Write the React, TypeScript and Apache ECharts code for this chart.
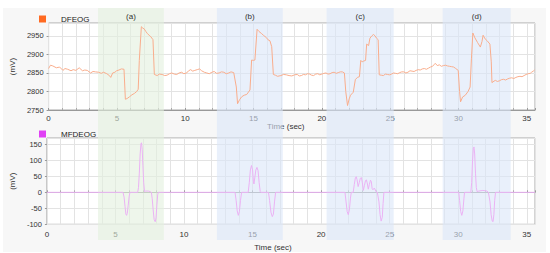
import React, { useEffect, useRef } from "react";
import * as echarts from "echarts";

const seriesNames = ["DFEOG", "MFDEOG"];
const bandLabels = ["(a)", "(b)", "(c)", "(d)"];
const bandRanges: [number, number][] = [
  [4.36, 9.07],
  [12.86, 17.57],
  [20.7, 25.5],
  [29.0, 33.86],
];
const bandKinds = ["green", "blue", "blue", "blue"];

const dfeogPoints: [number, number][] = [
  [0, 2862], [0.14, 2871], [0.31, 2869], [0.57, 2864], [0.81, 2866], [1.05, 2857], [1.2, 2862], [1.4, 2860],
  [1.64, 2856], [1.8, 2859], [2.0, 2857], [2.24, 2864], [2.48, 2856], [2.65, 2858], [2.83, 2857], [3.07, 2850],
  [3.25, 2854], [3.43, 2853], [3.67, 2852], [3.85, 2849], [4.02, 2852], [4.26, 2848], [4.45, 2843], [4.55, 2838],
  [4.69, 2850], [4.85, 2852], [4.98, 2856], [5.15, 2858], [5.33, 2861], [5.52, 2860], [5.62, 2779], [5.75, 2781],
  [5.93, 2786], [6.1, 2791], [6.29, 2795], [6.45, 2800], [6.56, 2806], [6.64, 2884], [6.79, 2975], [6.9, 2971],
  [7.0, 2969], [7.12, 2962], [7.24, 2956], [7.36, 2952], [7.48, 2948], [7.64, 2940], [7.74, 2846], [7.95, 2843],
  [8.1, 2847], [8.31, 2846], [8.5, 2843], [8.67, 2844], [8.85, 2848], [9.02, 2850], [9.2, 2847], [9.38, 2846],
  [9.55, 2850], [9.74, 2852], [9.9, 2848], [10.1, 2850], [10.25, 2856], [10.4, 2859], [10.55, 2855], [10.7, 2857],
  [10.88, 2859], [11.05, 2861], [11.2, 2856], [11.4, 2852], [11.58, 2850], [11.76, 2848], [11.95, 2852], [12.12, 2854],
  [12.3, 2849], [12.48, 2850], [12.65, 2853], [12.83, 2852], [13.0, 2848], [13.19, 2850], [13.35, 2853], [13.55, 2851],
  [13.74, 2812], [13.83, 2767], [13.98, 2778], [14.14, 2786], [14.32, 2790], [14.5, 2792], [14.74, 2804], [14.86, 2885],
  [15.0, 2884], [15.1, 2885], [15.26, 2968], [15.4, 2962], [15.57, 2957], [15.75, 2951], [15.93, 2946], [16.05, 2940],
  [16.2, 2937], [16.33, 2921], [16.45, 2846], [16.6, 2844], [16.76, 2841], [17.0, 2843], [17.2, 2846], [17.4, 2845],
  [17.6, 2843], [17.8, 2842], [18.0, 2845], [18.2, 2846], [18.35, 2842], [18.5, 2843], [18.65, 2846], [18.8, 2845],
  [18.95, 2848], [19.1, 2847], [19.25, 2844], [19.4, 2843], [19.55, 2847], [19.7, 2848], [19.85, 2845], [20.0, 2847],
  [20.15, 2849], [20.3, 2850], [20.45, 2847], [20.6, 2848], [20.75, 2851], [20.9, 2852], [21.05, 2849], [21.2, 2851],
  [21.35, 2853], [21.5, 2853], [21.65, 2850], [21.75, 2800], [21.88, 2762], [22.0, 2780], [22.1, 2790], [22.3, 2798],
  [22.45, 2832], [22.6, 2838], [22.75, 2840], [22.85, 2884], [22.95, 2880], [23.05, 2882], [23.2, 2884], [23.28, 2928],
  [23.42, 2924], [23.52, 2944], [23.65, 2950], [23.78, 2954], [23.9, 2950], [24.0, 2944], [24.12, 2940], [24.2, 2845],
  [24.35, 2844], [24.5, 2843], [24.65, 2847], [24.8, 2846], [24.95, 2845], [25.1, 2847], [25.25, 2850], [25.4, 2849],
  [25.55, 2848], [25.7, 2851], [25.85, 2853], [26.0, 2853], [26.15, 2850], [26.3, 2852], [26.45, 2856], [26.6, 2855],
  [26.75, 2854], [26.9, 2857], [27.05, 2859], [27.2, 2858], [27.35, 2861], [27.5, 2862], [27.65, 2860], [27.8, 2863],
  [27.95, 2866], [28.1, 2868], [28.2, 2872], [28.3, 2876], [28.45, 2870], [28.6, 2872], [28.75, 2868], [28.9, 2870],
  [29.05, 2871], [29.2, 2869], [29.35, 2868], [29.5, 2867], [29.65, 2866], [29.8, 2862], [29.98, 2857], [30.08, 2800],
  [30.15, 2772], [30.3, 2785], [30.5, 2790], [30.7, 2800], [30.85, 2812], [30.95, 2890], [31.05, 2958], [31.2, 2945],
  [31.4, 2932], [31.6, 2920], [31.72, 2935], [31.8, 2952], [31.95, 2942], [32.1, 2937], [32.3, 2928], [32.4, 2880],
  [32.45, 2824], [32.6, 2828], [32.7, 2830], [32.85, 2827], [33.0, 2829], [33.15, 2832], [33.3, 2833], [33.45, 2831],
  [33.6, 2834], [33.75, 2836], [33.9, 2837], [34.05, 2835], [34.2, 2838], [34.35, 2840], [34.5, 2841], [34.65, 2840],
  [34.8, 2843], [34.95, 2846], [35.1, 2848], [35.25, 2849], [35.35, 2852], [35.47, 2855], [35.57, 2858],
];

const mfdeogPoints: [number, number][] = [
  [0, 0], [5.55, 0], [5.63, -15], [5.7, -45], [5.76, -68], [5.81, -72], [5.86, -66], [5.93, -40], [6.0, -12], [6.06, 0],
  [6.62, 0], [6.68, 15], [6.74, 60], [6.8, 120], [6.86, 152], [6.9, 155], [6.95, 135], [7.0, 85], [7.06, 30], [7.12, 2],
  [7.2, 4], [7.4, 4], [7.55, 2], [7.62, 0], [7.68, -20], [7.75, -55], [7.82, -85], [7.9, -92], [7.96, -80], [8.02, -40],
  [8.08, -8], [8.12, 0],
  [13.72, 0], [13.8, -25], [13.88, -58], [13.96, -72], [14.04, -60], [14.12, -25], [14.2, 0],
  [14.68, 0], [14.76, 30], [14.84, 70], [14.92, 84], [15.0, 70], [15.06, 35], [15.1, 26], [15.16, 45], [15.24, 70],
  [15.32, 78], [15.4, 68], [15.48, 30], [15.56, 2], [15.6, 0],
  [16.16, 0], [16.24, -25], [16.34, -62], [16.44, -76], [16.52, -68], [16.6, -30], [16.68, 0],
  [21.74, 0], [21.82, -30], [21.9, -60], [21.98, -70], [22.06, -55], [22.14, -18], [22.2, 0],
  [22.34, 0], [22.42, 25], [22.5, 46], [22.56, 49], [22.62, 40], [22.7, 18], [22.78, 30], [22.86, 44], [22.94, 46],
  [23.0, 32], [23.08, 6], [23.16, 22], [23.24, 37], [23.3, 39], [23.36, 30], [23.44, 10], [23.52, 25], [23.6, 38],
  [23.66, 34], [23.72, 12], [23.78, 8], [23.86, 13], [23.92, 11], [24.0, 2], [24.1, 0],
  [24.14, 0], [24.22, -30], [24.3, -70], [24.38, -90], [24.46, -78], [24.52, -35], [24.58, 0],
  [30.04, 0], [30.1, -25], [30.18, -60], [30.26, -72], [30.34, -58], [30.42, -18], [30.46, 0],
  [30.92, 0], [30.98, 30], [31.04, 95], [31.1, 138], [31.15, 142], [31.2, 120], [31.26, 60], [31.32, 15], [31.38, 2],
  [31.5, 4], [31.8, 6], [32.1, 4], [32.2, 0],
  [32.24, 0], [32.32, -30], [32.4, -70], [32.48, -90], [32.54, -92], [32.6, -70], [32.66, -25], [32.72, 0],
  [35.6, 0],
];

const FONT = "'Liberation Sans', Arial, sans-serif";
const GRID_LINE = "#e3e3e3";

function xAxisFor(gridIndex: number, labelMargin: number, nameGap: number, namePad: number) {
  return {
    type: "value",
    gridIndex,
    min: 0,
    max: 35.6,
    interval: 5,
    name: "Time (sec)",
    nameLocation: "middle",
    nameGap,
    nameTextStyle: { fontSize: 8, color: "#333", fontFamily: FONT, padding: [0, namePad, 0, 0] },
    axisLine: { show: true, lineStyle: { color: "#999" } },
    axisTick: { show: true, inside: true, length: 2, lineStyle: { color: "#999" } },
    minorTick: { show: true, splitNumber: 5, length: 2, lineStyle: { color: "#aaa" } },
    axisLabel: {
      fontSize: 8,
      color: "#333",
      fontFamily: FONT,
      margin: labelMargin,
      showMaxLabel: false,
      formatter: (v: number) => String(v),
    },
    splitLine: { show: true, lineStyle: { color: GRID_LINE, width: 1 } },
    minorSplitLine: { show: true, lineStyle: { color: GRID_LINE, width: 1 } },
  };
}

function yAxisFor(gridIndex: number, min: number, max: number) {
  return {
    type: "value",
    gridIndex,
    min,
    max,
    interval: 50,
    name: "(mV)",
    nameLocation: "middle",
    nameGap: 24,
    nameTextStyle: { fontSize: 8, color: "#333", fontFamily: FONT },
    axisLine: { show: false },
    axisTick: { show: true, length: 2, lineStyle: { color: "#999" } },
    axisLabel: {
      fontSize: 7.5,
      color: "#333",
      fontFamily: FONT,
      margin: 5,
      showMaxLabel: false,
      formatter: (v: number) => String(v),
    },
    splitLine: { show: true, lineStyle: { color: GRID_LINE, width: 1 } },
  };
}

export default function App() {
  const ref = useRef<HTMLDivElement>(null);
  useEffect(() => {
    if (!ref.current) return;
    const chart = echarts.init(ref.current, null, { renderer: "svg" });
    const bandFill: Record<string, string> = {
      green: "rgba(226,240,222,0.6)",
      blue: "rgba(218,230,248,0.6)",
    };
    chart.setOption({
      animation: false,
      backgroundColor: "#fff",
      textStyle: { fontFamily: FONT },
      graphic: [
        {
          type: "rect",
          z: -1,
          silent: true,
          shape: { x: 3, y: 8, width: 543, height: 244 },
          style: { fill: "#f7f7f7" },
        },
      ],
      legend: [
        {
          data: [{ name: seriesNames[0], itemStyle: { color: "#ff6a22" } }],
          left: 34,
          top: 10,
          icon: "rect",
          itemWidth: 7,
          itemHeight: 7,
          selectedMode: false,
          textStyle: { fontSize: 8, color: "#222", fontFamily: FONT, padding: [0, 0, 0, 10] },
        },
        {
          data: [{ name: seriesNames[1], itemStyle: { color: "#e040f5" } }],
          left: 34,
          top: 125,
          icon: "rect",
          itemWidth: 7,
          itemHeight: 7,
          selectedMode: false,
          textStyle: { fontSize: 8, color: "#222", fontFamily: FONT, padding: [0, 0, 0, 10] },
        },
      ],
      grid: [
        { left: 37, right: 15, top: 23, height: 87, show: true, backgroundColor: "#fff", borderColor: "#a8a8a8", borderWidth: 1 },
        { left: 37, right: 15, top: 138, height: 86.3, show: true, backgroundColor: "#fff", borderColor: "#a8a8a8", borderWidth: 1 },
        { left: 37, right: 15, top: 8, height: 232, show: false },
      ],
      xAxis: [
        xAxisFor(0, 4, 12, 12),
        xAxisFor(1, 6, 19, 36),
        { type: "value", gridIndex: 2, min: 0, max: 35.6, show: false },
      ],
      yAxis: [
        yAxisFor(0, 2750, 2985),
        yAxisFor(1, -100, 170),
        { type: "value", gridIndex: 2, min: 0, max: 1, show: false },
      ],
      series: [
        {
          name: "bands",
          type: "line",
          xAxisIndex: 2,
          yAxisIndex: 2,
          data: [[0, 0]],
          showSymbol: false,
          lineStyle: { opacity: 0 },
          silent: true,
          z: 2,
          markArea: {
            silent: true,
            label: { show: true, position: "insideTop", distance: 4, fontSize: 8, color: "#333", fontFamily: FONT },
            data: bandRanges.map((r, i) => [
              { xAxis: r[0], name: bandLabels[i], itemStyle: { color: bandFill[bandKinds[i]] } },
              { xAxis: r[1] },
            ]),
          },
        },
        {
          name: seriesNames[0],
          type: "line",
          xAxisIndex: 0,
          yAxisIndex: 0,
          data: dfeogPoints,
          showSymbol: false,
          z: 3,
          color: "#f9ad8c",
          lineStyle: { color: "#f9ad8c", width: 1 },
        },
        {
          name: seriesNames[1],
          type: "line",
          xAxisIndex: 1,
          yAxisIndex: 1,
          data: mfdeogPoints,
          showSymbol: false,
          z: 3,
          color: "#ebb2f4",
          lineStyle: { color: "#ebb2f4", width: 1 },
        },
      ],
    });
    return () => chart.dispose();
  }, []);
  return <div ref={ref} style={{ position: "absolute", left: 0, top: 0, width: 550, height: 253 }} />;
}
